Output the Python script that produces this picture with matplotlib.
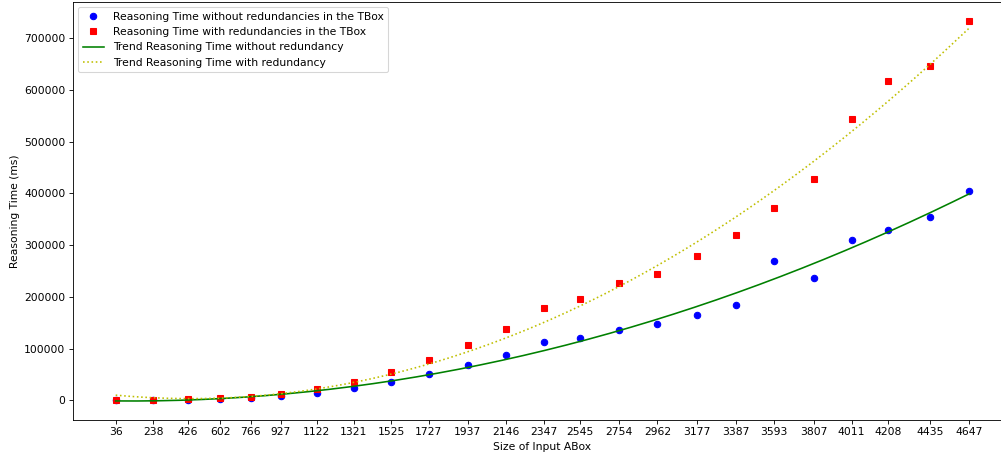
import numpy as np
import matplotlib
matplotlib.use("Agg")
import matplotlib.pyplot as plt

# size of input ABox
sizes = [36, 238, 426, 602, 766, 927, 1122, 1321, 1525, 1727, 1937, 2146,
         2347, 2545, 2754, 2962, 3177, 3387, 3593, 3807, 4011, 4208, 4435, 4647]

# reasoning time (ms) without redundancies in the TBox
time_no_red = [0, 500, 1000, 3000, 4000, 8000, 15000, 23000, 35000, 50000, 68000, 88000,
               112000, 121000, 135000, 147000, 165000, 184000, 270000, 236000, 309000, 330000,
               355000, 405000]

# reasoning time (ms) with redundancies in the TBox
time_red = [0, 1000, 2000, 4000, 6000, 12000, 22000, 36000, 54000, 78000, 106000, 138000,
            179000, 196000, 227000, 244000, 278000, 320000, 371000, 428000, 543000, 617000,
            646000, 733000]


def main():
    x = np.array(sizes)
    dpi = 77
    fig = plt.figure(figsize=(1001 / dpi, 459 / dpi), dpi=dpi)
    ax = fig.add_axes([73 / 1001, 39 / 459, 939 / 1001, 418 / 459])

    ax.plot(x, time_no_red, 'bo', label="Reasoning Time without redundancies in the TBox")
    ax.plot(x, time_red, 'rs', label="Reasoning Time with redundancies in the TBox")

    # quadratic trend lines
    xs = np.linspace(x.min(), x.max(), 200)
    p1 = np.poly1d(np.polyfit(x, time_no_red, 2))
    p2 = np.poly1d(np.polyfit(x, time_red, 2))
    ax.plot(xs, p1(xs), 'g-', label="Trend Reasoning Time without redundancy")
    ax.plot(xs, p2(xs), 'y:', label="Trend Reasoning Time with redundancy")

    ax.set_xticks(sizes)
    ax.set_xticklabels([str(s) for s in sizes])
    ax.set_xlabel("Size of Input ABox")
    ax.set_ylabel("Reasoning Time (ms)")
    ax.ticklabel_format(axis='y', useOffset=False, style='plain')
    ax.legend(loc='upper left')

    fig.savefig("out.png", dpi=dpi)


if __name__ == "__main__":
    main()
